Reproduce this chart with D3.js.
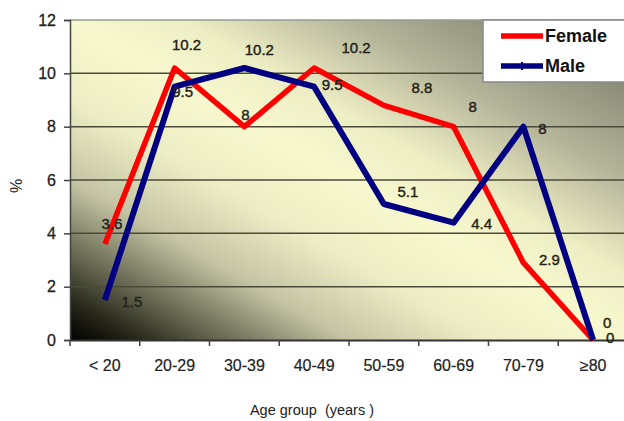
<!DOCTYPE html>
<html>
<head>
<meta charset="utf-8">
<script src="https://cdn.jsdelivr.net/npm/d3@7"></script>
<style>
  html, body { margin: 0; padding: 0; background: #fff; }
  svg { display: block; font-family: "Liberation Sans", Arial, sans-serif; }
</style>
</head>
<body>
<svg id="chart" width="624" height="421"></svg>
<script>
// ---- data ----
const categories = ["< 20", "20-29", "30-39", "40-49", "50-59", "60-69", "70-79", "\u226580"];
const femaleValues = [3.6, 10.2, 8, 10.2, 8.8, 8, 2.9, 0];
const maleValues = [1.5, 9.5, 10.2, 9.5, 5.1, 4.4, 8, 0];
const yTicks = [0, 2, 4, 6, 8, 10, 12];
const seriesNames = ["Female", "Male"];
const xTitle = "Age group  (years )";
const yTitle = "%";

// ---- layout (label nudges in px, relative to the point) ----
const femaleNudge = [[7,-20],[12,-23],[1,-12],[42,-20],[38,-18],[19,-20],[26,-3],[14,-17]];
const maleNudge = [[27,2],[8,5],[15,-18],[18,-2],[24,-12],[28,1],[19,2],[17,-2]];

const svg = d3.select("#chart");
const pL = 70, pR = 628, pT = 20, pB = 340;

const x = d3.scaleBand().domain(categories).range([pL, pR]).padding(0);
const y = d3.scaleLinear().domain([0, 12]).range([pB, pT]);

// gradient background
const defs = svg.append("defs");
const grad = defs.append("linearGradient").attr("id", "bg")
  .attr("x1", 0).attr("y1", 1).attr("x2", 1).attr("y2", 0);
[[0, "#000000"], [0.06, "#262619"], [0.14, "#6a6a54"], [0.25, "#c4c4a4"], [0.38, "#eeeec6"],
 [0.5, "#f8f8ce"], [0.6, "#eeeec4"], [0.75, "#b4b49a"], [0.9, "#8a8a78"], [1, "#6e6e66"]]
  .forEach(([o, c]) => grad.append("stop").attr("offset", o).attr("stop-color", c));

svg.append("rect").attr("x", pL).attr("y", pT)
  .attr("width", pR - pL).attr("height", pB - pT)
  .attr("fill", "url(#bg)");

// top border
svg.append("line").attr("x1", pL).attr("x2", pR).attr("y1", pT).attr("y2", pT)
  .attr("stroke", "#9a9a90").attr("stroke-width", 1.5);

// gridlines
svg.append("g").selectAll("line").data(yTicks.filter(d => d > 0 && d < 12)).join("line")
  .attr("x1", pL).attr("x2", pR)
  .attr("y1", d => y(d)).attr("y2", d => y(d))
  .attr("stroke", "#4a4a38").attr("stroke-width", 1.5);

// y axis
const yAxis = svg.append("g").attr("transform", `translate(${pL},0)`)
  .call(d3.axisLeft(y).tickValues(yTicks).tickSize(6).tickPadding(8).tickFormat(d3.format("d")));
yAxis.select(".domain").attr("stroke", "#444").attr("stroke-width", 1.5);
yAxis.selectAll(".tick line").attr("stroke", "#444").attr("stroke-width", 1.5);
yAxis.selectAll("text").attr("font-size", 16).attr("fill", "#222")
  .attr("stroke", "#222").attr("stroke-width", 0.3)
  .attr("font-family", "Liberation Sans, Arial, sans-serif");

// x axis: labels at band centers
const xAxis = svg.append("g").attr("transform", `translate(0,${pB})`)
  .call(d3.axisBottom(x).tickSize(0).tickPadding(20));
xAxis.select(".domain").attr("stroke", "#333").attr("stroke-width", 2);
xAxis.selectAll("text").attr("font-size", 16).attr("fill", "#222")
  .attr("stroke", "#222").attr("stroke-width", 0.2)
  .attr("font-family", "Liberation Sans, Arial, sans-serif");

// x boundary ticks
const bounds = d3.range(categories.length + 1).map(i => pL + i * x.bandwidth());
svg.append("g").selectAll("line").data(bounds).join("line")
  .attr("x1", d => d).attr("x2", d => d).attr("y1", pB).attr("y2", pB + 6)
  .attr("stroke", "#444").attr("stroke-width", 1.5);

// axis titles
svg.append("text").attr("x", 312).attr("y", 415).attr("text-anchor", "middle")
  .attr("font-size", 14.5).attr("fill", "#222").style("white-space", "pre").text(xTitle);
svg.append("text").attr("transform", "translate(22,186) rotate(-90)").attr("text-anchor", "middle")
  .attr("font-size", 16).attr("fill", "#222").text(yTitle);

// lines
const cx = d => x(d) + x.bandwidth() / 2;
const line = d3.line().x((d, i) => cx(categories[i])).y(d => y(d));
svg.append("path").datum(femaleValues).attr("d", line)
  .attr("fill", "none").attr("stroke", "#ff0000").attr("stroke-width", 5.5).attr("stroke-linejoin", "round");
svg.append("path").datum(maleValues).attr("d", line)
  .attr("fill", "none").attr("stroke", "#000080").attr("stroke-width", 6).attr("stroke-linejoin", "round");

// data labels
function labels(vals, nudge) {
  svg.append("g").selectAll("text").data(vals).join("text")
    .attr("x", (d, i) => cx(categories[i]) + nudge[i][0])
    .attr("y", (d, i) => y(d) + nudge[i][1])
    .attr("dy", "0.36em").attr("text-anchor", "middle")
    .attr("font-size", 15).attr("fill", "#222218")
    .attr("stroke", "#222218").attr("stroke-width", 0.4)
    .text(d => d);
}
labels(femaleValues, femaleNudge);
labels(maleValues, maleNudge);

// legend
const lg = svg.append("g");
lg.append("rect").attr("x", 483).attr("y", 20).attr("width", 150).attr("height", 62)
  .attr("fill", "#fff").attr("stroke", "#888").attr("stroke-width", 1.5);
const lcolors = ["#ff0000", "#000080"];
seriesNames.forEach((n, i) => {
  const ly = 36 + i * 30;
  lg.append("line").attr("x1", 501).attr("x2", 543).attr("y1", ly).attr("y2", ly)
    .attr("stroke", lcolors[i]).attr("stroke-width", 5.5);
  if (i === 1) {
    lg.append("line").attr("x1", 522).attr("x2", 522).attr("y1", ly - 4).attr("y2", ly + 4)
      .attr("stroke", lcolors[i]).attr("stroke-width", 2);
  }
  lg.append("text").attr("x", 545).attr("y", ly).attr("dy", "0.36em")
    .attr("font-size", 18).attr("font-weight", "bold").attr("fill", "#111").text(n);
});
</script>
</body>
</html>
